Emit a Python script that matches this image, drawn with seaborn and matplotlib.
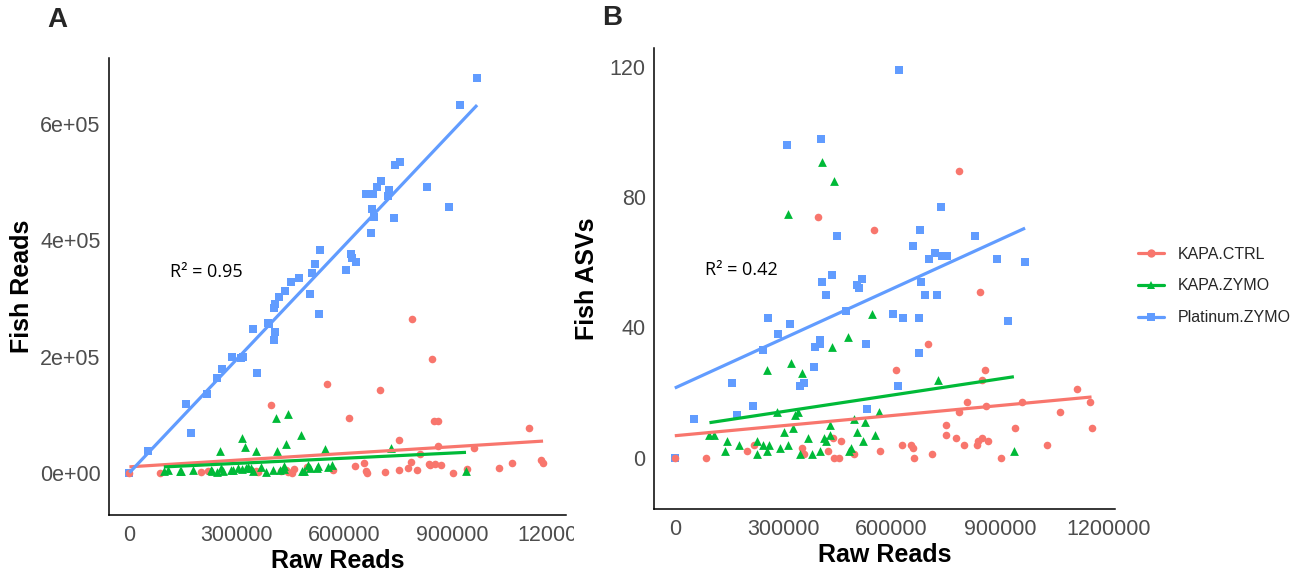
import numpy as np
import pandas as pd
import matplotlib
matplotlib.use("Agg")
import matplotlib.pyplot as plt
import seaborn as sns
from matplotlib.lines import Line2D
from matplotlib.transforms import Bbox, TransformedBbox

# ---------------- data ----------------
groups = ["KAPA.CTRL", "KAPA.ZYMO", "Platinum.ZYMO"]
palette = ["#F8766D", "#00BA38", "#619CFF"]

# KAPA.CTRL (raw reads in thousands)
ctrl_raw_k = [0, 86, 201, 218, 353, 358, 396, 424, 438, 442, 454, 460, 496, 551, 567,
              612, 628, 655, 661, 663, 700, 712, 751, 752, 778, 787, 786, 802, 810, 836,
              839, 845, 850, 852, 860, 861, 868, 904, 941, 962, 1032, 1066, 1114, 1149, 1154]
ctrl_fish_reads_k = [0, 1, 2.5, 3, 4, 2, 117, 3, 5, 2, 1, 7, 11, 153, 5,
                     95, 12, 17, 3, 1, 142, 2.5, 56, 6, 9, 265, 19, 6, 33, 15,
                     14, 196, 89, 15, 90, 47, 14, 1, 7.5, 43, 9, 17, 78, 22, 18]
ctrl_fish_asvs = [0, 0, 2, 4, 3, 1, 74, 2, 6, 0, 0, 5, 1, 70, 2,
                  27, 4, 4, 3, 0, 35, 1, 10, 7, 6, 88, 14, 4, 17, 4,
                  5, 51, 24, 6, 27, 16, 5, 0, 9, 17, 4, 14, 21, 17, 9]

# KAPA.ZYMO
zymo_raw_k = [96, 109, 140, 145, 177, 229, 228, 244, 254, 261, 255, 282, 290, 302, 313,
              314, 322, 326, 332, 340, 346, 353, 368, 381, 401, 408, 413, 420, 430, 431,
              436, 442, 480, 482, 488, 497, 504, 522, 527, 547, 554, 566, 729, 939]
zymo_fish_reads_k = [4, 5, 3, 4, 5, 3, 6, 2, 38, 4, 8, 6, 5, 8, 60,
                     7, 45, 9, 10, 8, 3, 38, 10, 2, 5, 94, 38, 6, 12, 7,
                     50, 101, 65, 3, 4, 14, 8, 9, 12, 42, 10, 14, 43, 3.4]
zymo_fish_asvs = [7, 7, 2, 5, 4, 1, 5, 4, 2, 4, 27, 14, 3, 8, 4,
                  75, 29, 9, 13, 14, 1, 26, 6, 1, 2, 91, 6, 5, 10, 7,
                  34, 85, 37, 2, 3, 12, 8, 5, 11, 44, 7, 14, 24, 2]

# Platinum.ZYMO
plat_raw_k = [0, 52, 158, 172, 217, 243, 259, 286, 310, 318, 346, 357, 386, 389, 402,
              403, 406, 407, 418, 435, 450, 473, 505, 510, 518, 530, 532, 605, 619, 621,
              632, 659, 675, 676, 680, 681, 692, 703, 720, 725, 737, 741, 755, 831, 892,
              923, 970]
plat_fish_reads_k = [0, 38, 118, 69, 136, 164, 179, 199, 197, 199, 248, 172, 258, 256, 228,
                     284, 290, 243, 303, 312, 329, 335, 308, 343, 359, 274, 384, 348, 376, 370,
                     362, 479, 413, 454, 480, 440, 492, 502, 476, 486, 439, 530, 534, 492, 457,
                     633, 679]
plat_fish_asvs = [0, 12, 23, 13, 16, 33, 43, 38, 96, 41, 22, 23, 28, 34, 35,
                  36, 98, 54, 50, 56, 68, 45, 53, 52, 55, 35, 15, 44, 22, 119,
                  43, 65, 43, 32, 70, 54, 50, 61, 63, 50, 77, 62, 62, 68, 61,
                  42, 60]

r2_labels = ["R\u00b2 = 0.95", "R\u00b2 = 0.42"]
panel_letters = ["A", "B"]
x_ticks = [0, 300000, 600000, 900000, 1200000]
x_tick_labels = ["0", "300000", "600000", "900000", "1200000"]
yA_ticks = [0, 200000, 400000, 600000]
yA_tick_labels = ["0e+00", "2e+05", "4e+05", "6e+05"]
yB_ticks = [0, 40, 80, 120]
yB_tick_labels = ["0", "40", "80", "120"]

# ---------------- build table ----------------
frames = []
for g, raw, fr, asv in [
    (groups[0], ctrl_raw_k, ctrl_fish_reads_k, ctrl_fish_asvs),
    (groups[1], zymo_raw_k, zymo_fish_reads_k, zymo_fish_asvs),
    (groups[2], plat_raw_k, plat_fish_reads_k, plat_fish_asvs),
]:
    frames.append(pd.DataFrame({
        "group": g,
        "raw": np.array(raw, float) * 1000,
        "fish_reads": np.array(fr, float) * 1000,
        "fish_asvs": np.array(asv, float),
    }))
df = pd.concat(frames, ignore_index=True)

# ---------------- figure ----------------
sns.set_theme(style="white")
plt.rcParams["font.family"] = ["Liberation Sans", "DejaVu Sans"]

W, H = 1316, 573
fig = plt.figure(figsize=(W / 100, H / 100), dpi=100)


def frac_box(l, t, r, b):
    return [l / W, 1 - b / H, (r - l) / W, (b - t) / H]


axA = fig.add_axes(frac_box(109, 58, 566, 515))
axB = fig.add_axes(frac_box(654, 48, 1115, 509))

marker_map = {"KAPA.CTRL": "o", "KAPA.ZYMO": "^", "Platinum.ZYMO": "s"}
size_map = {"KAPA.CTRL": 30, "KAPA.ZYMO": 40, "Platinum.ZYMO": 26}
color_map = dict(zip(groups, palette))
draw_order = ["Platinum.ZYMO", "KAPA.CTRL", "KAPA.ZYMO"]

for ax, ycol in [(axA, "fish_reads"), (axB, "fish_asvs")]:
    for g in draw_order:
        sub = df[df.group == g]
        sns.scatterplot(data=sub, x="raw", y=ycol, ax=ax, color=color_map[g],
                        marker=marker_map[g], s=size_map[g], linewidth=0,
                        legend=False, zorder=2)
    for g in groups:
        sub = df[df.group == g]
        sns.regplot(data=sub, x="raw", y=ycol, ax=ax, scatter=False, ci=None,
                    truncate=True, color=color_map[g],
                    line_kws={"linewidth": 2.3, "zorder": 3, "solid_capstyle": "butt"})

for ax in (axA, axB):
    sns.despine(ax=ax)
    ax.spines["left"].set_color("black")
    ax.spines["bottom"].set_color("black")
    ax.spines["left"].set_linewidth(1.1)
    ax.spines["bottom"].set_linewidth(1.1)
    ax.tick_params(axis="both", length=0, labelsize=15.5, labelcolor="#4D4D4D")
    ax.tick_params(axis="x", pad=7)
    ax.tick_params(axis="y", pad=6)
    ax.set_xlabel("Raw Reads", fontsize=18, fontweight="bold", color="black", labelpad=2)
    ax.set_xticks(x_ticks)
    ax.set_xticklabels(x_tick_labels)

axA.set_xlim(-57000, 1218000)
axA.set_ylim(-72000, 713000)
axA.set_yticks(yA_ticks)
axA.set_yticklabels(yA_tick_labels)
axA.set_ylabel("Fish Reads", fontsize=18, fontweight="bold", color="black", labelpad=4)

axB.set_xlim(-57600, 1219000)
axB.set_ylim(-15.8, 125.9)
axB.set_yticks(yB_ticks)
axB.set_yticklabels(yB_tick_labels)
axB.set_ylabel("Fish ASVs", fontsize=18, fontweight="bold", color="black", labelpad=8)

# clip panel A's last x tick label like in the reference
clip = TransformedBbox(Bbox([[0, 0], [574 / W, 1]]), fig.transFigure)
for lbl in axA.get_xticklabels():
    lbl.set_clip_box(clip)
    lbl.set_clip_on(True)

# R^2 annotations
axA.text(113000, 345000, r2_labels[0], fontsize=13, family=["Open Sans", "DejaVu Sans"],
         color="black", ha="left", va="center")
axB.text(83000, 57.7, r2_labels[1], fontsize=13, family=["Open Sans", "DejaVu Sans"],
         color="black", ha="left", va="center")

# panel letters
fig.text(57 / W, 1 - 20 / H, panel_letters[0], fontsize=20, fontweight="bold",
         ha="center", va="center")
fig.text(612 / W, 1 - 18 / H, panel_letters[1], fontsize=20, fontweight="bold",
         ha="center", va="center")

# legend
handles = [Line2D([0], [0], color=c, lw=2.3, marker=marker_map[g], markersize=6,
                  markeredgewidth=0) for g, c in zip(groups, palette)]
fig.legend(handles, groups, loc="center left", bbox_to_anchor=(1138 / W, 1 - 286 / H),
           frameon=False, fontsize=11.5, handlelength=1.6, handletextpad=0.9,
           labelspacing=1.05, borderpad=0, borderaxespad=0)

fig.savefig("out.png", dpi=100)
